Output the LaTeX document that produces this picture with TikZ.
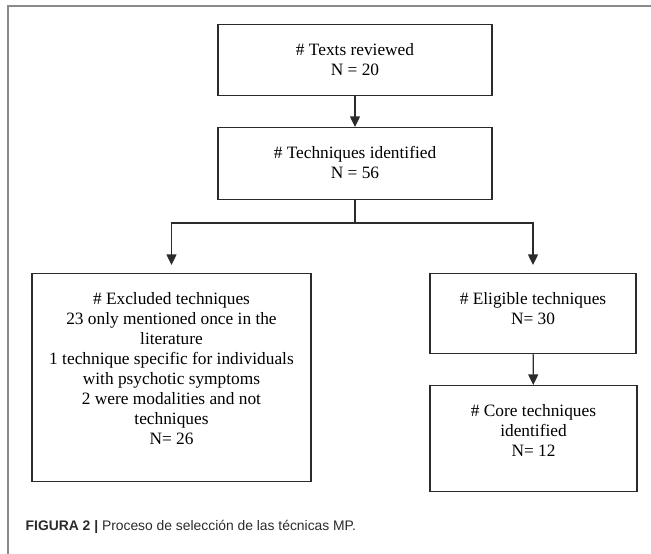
\documentclass[tikz,border=0pt]{standalone}
\usepackage{fontspec}
\setmainfont{Liberation Serif}
\newfontfamily\captionfont{Liberation Sans}
\usetikzlibrary{arrows.meta}
\definecolor{boxline}{HTML}{2B2B2B}
\definecolor{framegray}{HTML}{8A8A8A}
\newcommand{\boxlines}[1]{\begin{tabular}[t]{@{}c@{}}#1\end{tabular}}

\begin{document}
\begin{tikzpicture}[x=0.75pt, y=-0.75pt,
        box/.style={draw=boxline, line width=1pt, rectangle, anchor=north,
            inner ysep=12.55pt, text height=10.5pt, font=\fontsize{13}{15}\selectfont},
        link/.style={draw=boxline, line width=1pt, -{Triangle[width=7.5pt, length=8pt]}}]
        \useasboundingbox (0,0) rectangle (651,554);
        % Frame
        \draw[framegray, line width=0.8pt] (651,6) -- (8,6) -- (8,554);

        % Nodes
        \node[box, minimum width=205.5pt, text depth=17.65pt] (texts) at (355,24) {\boxlines{\# Texts reviewed\\N = 20}};
        \node[box, minimum width=205.5pt, text depth=18.4pt] (techniques) at (355,127) {\boxlines{\# Techniques identified\\N = 56}};
        \node[box, minimum width=209.25pt, text depth=120.4pt] (excluded) at (171.5,273) {\boxlines{\# Excluded techniques\\23 only mentioned once in the\\literature\\1 technique specific for individuals\\with psychotic symptoms\\2 were modalities and not\\techniques\\N= 26}};
        \node[box, minimum width=154.5pt, text depth=24.4pt] (eligible) at (533,273) {\boxlines{\# Eligible techniques\\N= 30}};
        \node[box, minimum width=155.25pt, text depth=43.9pt] (core) at (533.5,385) {\boxlines{\# Core techniques\\identified\\N= 12}};
        \coordinate (split) at (355,223);
        \node[anchor=west, text=boxline, font=\captionfont\fontsize{10.4}{12}\selectfont] (caption) at (21,527) {\textbf{FIGURA 2 |} Proceso de selección de las técnicas MP.};

        % Arrows
        \draw[link] (texts) -- (techniques);
        \draw[draw=boxline, line width=1pt] (techniques.south) -- (split);
        \draw[link, shorten >=6pt] (split) -| (excluded.north);
        \draw[link, shorten >=6pt] (split) -| (eligible.north);
        \draw[link] (eligible) -- (core);
\end{tikzpicture}
\end{document}
